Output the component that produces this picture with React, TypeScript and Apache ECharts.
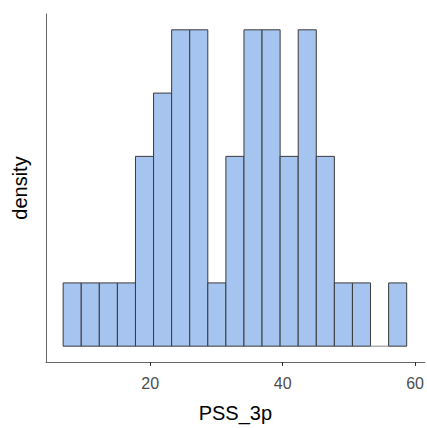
import React, { useEffect, useRef } from "react";
import * as echarts from "echarts";

const binStarts = [6.86, 9.59, 12.32, 15.05, 17.78, 20.51, 23.24, 25.97, 28.7, 31.43, 34.16, 36.89, 39.62, 42.35, 45.08, 47.81, 50.54, 53.27, 56.0];
const binEnds = [9.59, 12.32, 15.05, 17.78, 20.51, 23.24, 25.97, 28.7, 31.43, 34.16, 36.89, 39.62, 42.35, 45.08, 47.81, 50.54, 53.27, 56.0, 58.73];
const counts = [1, 1, 1, 1, 3, 4, 5, 5, 1, 3, 5, 5, 3, 5, 3, 1, 1, 0, 1];
const xTicks = [20, 40, 60];
const xLabel = "PSS_3p";
const yLabel = "density";

export default function App() {
  const ref = useRef<HTMLDivElement>(null);
  useEffect(() => {
    if (!ref.current) return;
    const chart = echarts.init(ref.current, undefined, { renderer: "svg" });
    const data = binStarts.map((s, i) => [s, binEnds[i], counts[i]]);
    chart.setOption({
      animation: false,
      backgroundColor: "#ffffff",
      textStyle: { fontFamily: "Liberation Sans, Arial, sans-serif" },
      grid: { left: 46, right: 0, top: 14, bottom: 65, containLabel: false },
      xAxis: {
        type: "value",
        min: 4.27,
        max: 61.45,
        name: xLabel,
        nameLocation: "middle",
        nameGap: 41,
        nameTextStyle: { fontSize: 20, color: "#000000", fontFamily: "Liberation Sans, Arial, sans-serif" },
        splitLine: { show: false },
        axisLine: { show: true, onZero: false, lineStyle: { color: "#666666", width: 1 } },
        axisTick: {
          show: true,
          length: 4,
          lineStyle: { color: "#333333", width: 1 },
          customValues: xTicks,
        },
        axisLabel: {
          show: true,
          fontSize: 16,
          color: "#4d4d4d",
          margin: 13,
          customValues: xTicks,
          fontFamily: "Liberation Sans, Arial, sans-serif",
        },
      },
      yAxis: {
        type: "value",
        min: -0.25,
        max: 5.25,
        name: yLabel,
        nameLocation: "middle",
        nameGap: 16,
        nameTextStyle: { fontSize: 20, color: "#000000", fontFamily: "Liberation Sans, Arial, sans-serif" },
        splitLine: { show: false },
        axisLine: { show: true, onZero: false, lineStyle: { color: "#666666", width: 1 } },
        axisTick: { show: false },
        axisLabel: { show: false },
      },
      series: [
        {
          type: "custom",
          data,
          encode: { x: [0, 1], y: 2 },
          renderItem: (params: any, api: any) => {
            const s = api.value(0);
            const e = api.value(1);
            const c = api.value(2);
            const p0 = api.coord([s, 0]);
            const p1 = api.coord([e, c]);
            const x = p0[0];
            const w = p1[0] - p0[0];
            const y = p1[1];
            const h = p0[1] - p1[1];
            if (h <= 0) {
              return {
                type: "line",
                shape: { x1: x, y1: p0[1], x2: x + w, y2: p0[1] },
                style: { stroke: "#888888", lineWidth: 1 },
              };
            }
            return {
              type: "rect",
              shape: { x, y, width: w, height: h },
              style: { fill: "#a6c4f0", stroke: "#3a3a3a", lineWidth: 1 },
            };
          },
        },
      ],
    });
    return () => chart.dispose();
  }, []);
  return (
    <div
      ref={ref}
      style={{ position: "fixed", left: 0, top: 0, width: 427, height: 428 }}
    />
  );
}
